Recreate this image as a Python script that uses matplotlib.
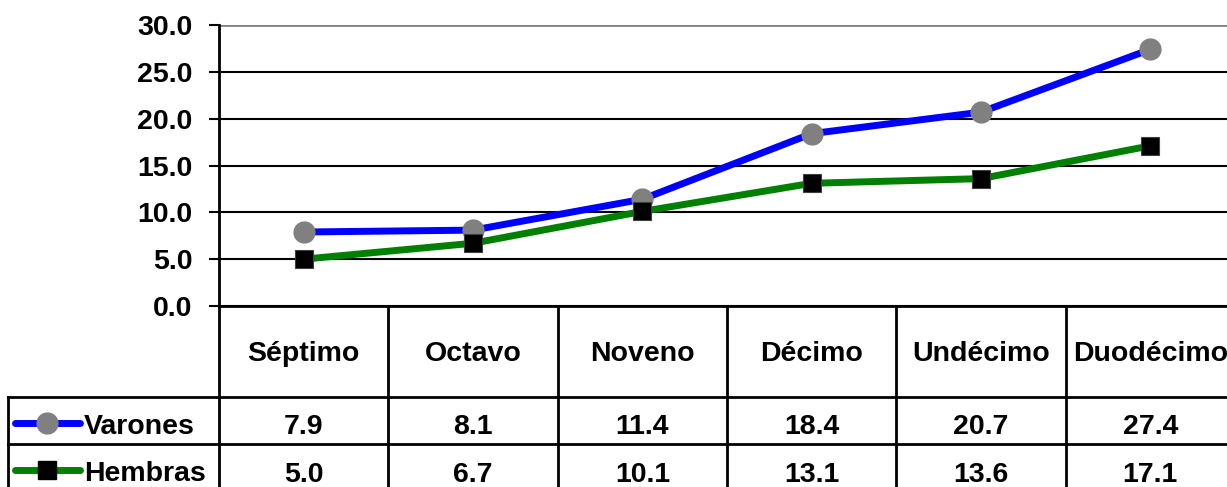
import numpy as np
import matplotlib
matplotlib.use("Agg")
import matplotlib.pyplot as plt
from matplotlib.lines import Line2D

grados = ["Séptimo", "Octavo", "Noveno", "Décimo", "Undécimo", "Duodécimo"]
varones = [7.9, 8.1, 11.4, 18.4, 20.7, 27.4]
hembras = [5.0, 6.7, 10.1, 13.1, 13.6, 17.1]
y_ticks = [0, 5, 10, 15, 20, 25, 30]

W, H = 1227, 487
plt.rcParams['font.family'] = ['Liberation Sans', 'DejaVu Sans']
plt.rcParams['font.weight'] = 'bold'

fig = plt.figure(figsize=(W / 100, H / 100), dpi=100)

# layout in pixels
x0, x1 = 219, 1235          # plot area left/right
y_top, y_zero = 25, 306     # y=30 and y=0
row1, row2, row3 = 397, 444, 490
leg_left = 8
colw = (x1 - x0) / len(grados)

# table layer in pixel coordinates
tab = fig.add_axes([0, 0, 1, 1])
tab.set_xlim(0, W)
tab.set_ylim(H, 0)
tab.axis('off')

lw_tab = 2
for i in range(len(grados) + 1):
    xx = x0 + i * colw
    tab.plot([xx, xx], [y_zero, row3], color='black', lw=lw_tab, solid_capstyle='butt')
tab.plot([leg_left, leg_left], [row1, row3], color='black', lw=lw_tab)
for yy in (row1, row2, row3):
    tab.plot([leg_left, x1], [yy, yy], color='black', lw=lw_tab)

fs = 20.5
for i, g in enumerate(grados):
    cx = x0 + (i + 0.5) * colw
    tab.text(cx, 361, g, ha='center', va='baseline', fontsize=fs, fontweight='bold')
    tab.text(cx, 434, f"{varones[i]:.1f}", ha='center', va='baseline', fontsize=fs, fontweight='bold')
    tab.text(cx, 482, f"{hembras[i]:.1f}", ha='center', va='baseline', fontsize=fs, fontweight='bold')

# legend keys in the table
for yy, col, mk, mfc, txt, ms in [(423, '#0000FF', 'o', '#808080', 'Varones', 15),
                                 (470, '#008000', 's', 'black', 'Hembras', 13)]:
    tab.add_line(Line2D([15, 80], [yy, yy], color=col, lw=5, solid_capstyle='round'))
    tab.plot([47], [yy], marker=mk, ms=ms, mfc=mfc, mec=mfc)
    tab.text(84, yy + 11, txt, ha='left', va='baseline', fontsize=fs, fontweight='bold')

# chart
ax = fig.add_axes([x0 / W, (H - y_zero) / H, (x1 - x0) / W, (y_zero - y_top) / H])
ax.patch.set_alpha(0)
x = np.arange(len(grados))
ax.plot(x, varones, color='#0000FF', lw=5, marker='o', ms=15,
        mfc='#808080', mec='#808080', zorder=3)
ax.plot(x, hembras, color='#008000', lw=5, marker='s', ms=13,
        mfc='black', mec='#404040', mew=0.8, zorder=3)
ax.set_xlim(-0.5, len(grados) - 0.5)
ax.set_ylim(0, 30)
ax.set_yticks(y_ticks)
ax.set_yticklabels([f"{v:.1f}" for v in y_ticks], fontsize=fs, fontweight='bold')
ax.set_xticks([])
ax.tick_params(axis='y', direction='out', length=7, width=1.5, pad=12)
ax.yaxis.grid(True, color='black', lw=1.5)
ax.get_ygridlines()[-1].set_color('#808080')
ax.get_ygridlines()[-1].set_linewidth(2)
ax.set_axisbelow(True)
for s in ('top', 'right'):
    ax.spines[s].set_visible(False)
ax.spines['left'].set_linewidth(2)
ax.spines['bottom'].set_linewidth(2)

fig.savefig("out.png", dpi=100)
